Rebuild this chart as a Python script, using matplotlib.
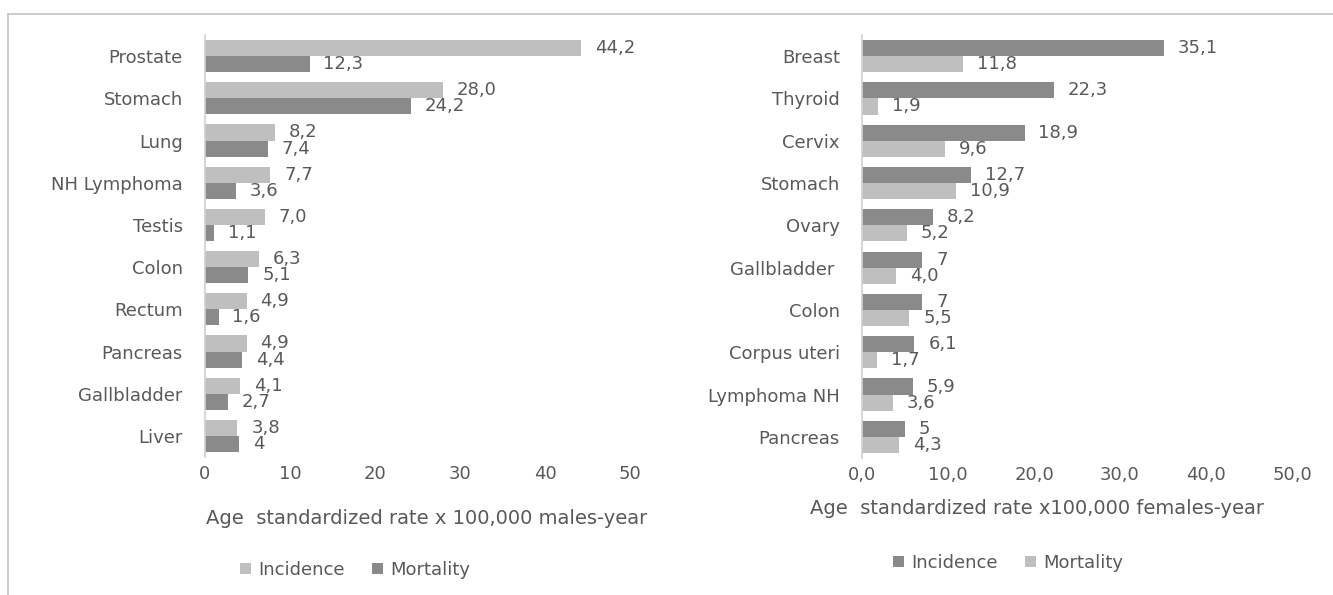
import matplotlib
matplotlib.use("Agg")
import matplotlib.pyplot as plt
from matplotlib.patches import Patch
from matplotlib.lines import Line2D
import numpy as np

# ---- data ----
male_sites = ["Prostate", "Stomach", "Lung", "NH Lymphoma", "Testis", "Colon",
              "Rectum", "Pancreas", "Gallbladder", "Liver"]
male_incidence = [44.2, 28.0, 8.2, 7.7, 7.0, 6.3, 4.9, 4.9, 4.1, 3.8]
male_mortality = [12.3, 24.2, 7.4, 3.6, 1.1, 5.1, 1.6, 4.4, 2.7, 4.0]
male_inc_labels = ["44,2", "28,0", "8,2", "7,7", "7,0", "6,3", "4,9", "4,9", "4,1", "3,8"]
male_mor_labels = ["12,3", "24,2", "7,4", "3,6", "1,1", "5,1", "1,6", "4,4", "2,7", "4"]
male_xticks = [0, 10, 20, 30, 40, 50]
male_xticklabels = ["0", "10", "20", "30", "40", "50"]

female_sites = ["Breast", "Thyroid", "Cervix", "Stomach", "Ovary", "Gallbladder ",
                "Colon", "Corpus uteri", "Lymphoma NH", "Pancreas"]
female_incidence = [35.1, 22.3, 18.9, 12.7, 8.2, 7.0, 7.0, 6.1, 5.9, 5.0]
female_mortality = [11.8, 1.9, 9.6, 10.9, 5.2, 4.0, 5.5, 1.7, 3.6, 4.3]
female_inc_labels = ["35,1", "22,3", "18,9", "12,7", "8,2", "7", "7", "6,1", "5,9", "5"]
female_mor_labels = ["11,8", "1,9", "9,6", "10,9", "5,2", "4,0", "5,5", "1,7", "3,6", "4,3"]
female_xticks = [0, 10, 20, 30, 40, 50]
female_xticklabels = ["0,0", "10,0", "20,0", "30,0", "40,0", "50,0"]

LIGHT = "#bfbfbf"
DARK = "#8a8a8a"
TXT = "#595959"
FONT = "DejaVu Sans"
FS = 13
FS_T = 14

plt.rcParams["font.family"] = [FONT]

W, H = 1333, 595
fig = plt.figure(figsize=(W / 100, H / 100), dpi=100)
fig.patch.set_facecolor("white")


def px(x0, y0, x1, y1):
    return [x0 / W, 1 - y1 / H, (x1 - x0) / W, (y1 - y0) / H]


def draw(ax, sites, inc, mor, inc_lab, mor_lab, inc_col, mor_col, ticks, ticklabels):
    n = len(sites)
    y = np.arange(n)
    h = 0.38
    ax.barh(y - h / 2, inc, height=h, color=inc_col)
    ax.barh(y + h / 2, mor, height=h, color=mor_col)
    for i in range(n):
        ax.annotate(inc_lab[i], (inc[i], y[i] - h / 2), xytext=(10, 0),
                    textcoords="offset points", va="center", ha="left",
                    fontsize=FS, color=TXT)
        ax.annotate(mor_lab[i], (mor[i], y[i] + h / 2), xytext=(10, 0),
                    textcoords="offset points", va="center", ha="left",
                    fontsize=FS, color=TXT)
    ax.set_ylim(n - 0.5, -0.5)
    ax.set_xlim(0, 50)
    ax.set_yticks(y)
    ax.set_yticklabels(sites, fontsize=FS, color=TXT)
    ax.set_xticks(ticks)
    ax.set_xticklabels(ticklabels, fontsize=FS, color=TXT)
    ax.tick_params(axis="both", length=0)
    ax.tick_params(axis="x", pad=6)
    ax.tick_params(axis="y", pad=16)
    for s in ["top", "right", "bottom"]:
        ax.spines[s].set_visible(False)
    ax.spines["left"].set_color("#d0d0d0")
    ax.spines["left"].set_linewidth(1.2)
    ax.set_facecolor("none")


ax1 = fig.add_axes(px(205, 35, 630, 457))
draw(ax1, male_sites, male_incidence, male_mortality, male_inc_labels, male_mor_labels,
     LIGHT, DARK, male_xticks, male_xticklabels)

ax2 = fig.add_axes(px(862, 35, 1292, 458))
draw(ax2, female_sites, female_incidence, female_mortality, female_inc_labels, female_mor_labels,
     DARK, LIGHT, female_xticks, female_xticklabels)

# axis titles
fig.text(427 / W, 1 - 518 / H, "Age  standardized rate x 100,000 males-year",
         ha="center", va="center", fontsize=FS_T, color=TXT)
fig.text(810 / W, 1 - 508 / H, "Age  standardized rate x100,000 females-year",
         ha="left", va="center", fontsize=FS_T, color=TXT)

# legends
h_inc_l = Patch(facecolor=LIGHT, edgecolor="none")
h_mor_l = Patch(facecolor=DARK, edgecolor="none")
leg1 = fig.legend([h_inc_l, h_mor_l], ["Incidence", "Mortality"], loc="center",
                  bbox_to_anchor=(355 / W, 1 - 570 / H), ncol=2, frameon=False,
                  fontsize=FS, handlelength=0.6, handleheight=0.6, handletextpad=0.4,
                  columnspacing=1.5, labelcolor=TXT)
leg2 = fig.legend([h_mor_l, h_inc_l], ["Incidence", "Mortality"], loc="center",
                  bbox_to_anchor=(1008 / W, 1 - 563 / H), ncol=2, frameon=False,
                  fontsize=FS, handlelength=0.6, handleheight=0.6, handletextpad=0.4,
                  columnspacing=1.5, labelcolor=TXT)

# outer frame (top and left edges)
fig.add_artist(Line2D([8 / W, 1.0], [1 - 14 / H, 1 - 14 / H], color="#c4c4c4", lw=1.2))
fig.add_artist(Line2D([8 / W, 8 / W], [1 - 14 / H, 0], color="#c4c4c4", lw=1.2))

fig.savefig("out.png", dpi=100)
